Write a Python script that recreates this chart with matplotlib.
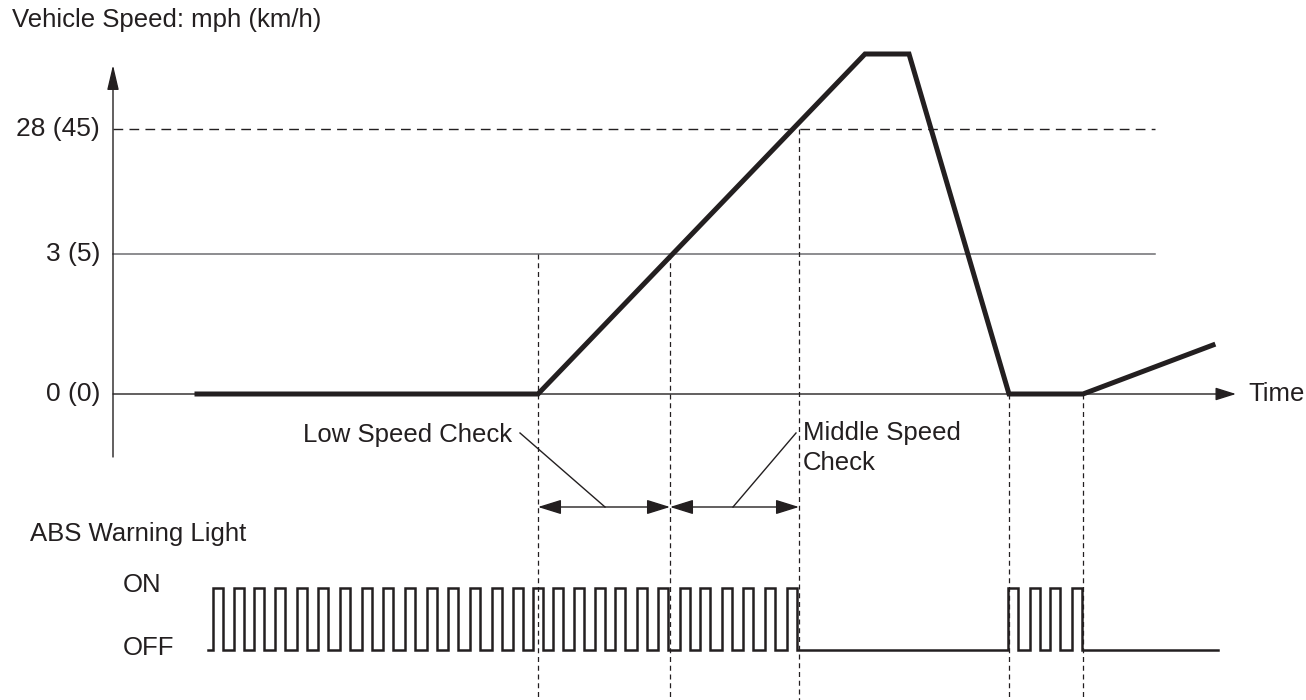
import matplotlib.pyplot as plt

plt.rcParams['font.family'] = ['Liberation Sans', 'DejaVu Sans']

# diagram units: x = time position, y = height above the 0 (0) line
ink = '#231f20'
grey = '#6d6e71'

# vehicle speed trace
speed_t = [197, 538, 865, 909, 1009, 1083, 1213]
speed_v = [0, 0, 340, 340, 0, 0, 49]

# reference speed levels and their labels
level_v = [0, 140, 265]
level_lbl = ['0 (0)', '3 (5)', '28 (45)']

# ABS warning light: rising edges of each blink, all blinks same on-time
blink_rise = [213, 234, 254, 275, 297, 318, 340, 362, 383, 405, 427, 448, 470, 492,
              513, 533, 553, 574, 595, 615, 637, 658, 680, 700, 722, 743, 765, 787,
              1008, 1030, 1050, 1072]
blink_on = 10
light_start, light_end = 208, 1218
light_on, light_off = -194, -256

# check points (time) and the level each dashed marker starts from
check_t = [538, 670, 799, 1009, 1083]
check_top = [140, 140, 265, 0, 0]

fig = plt.figure(figsize=(13.06, 7), dpi=100)
ax = fig.add_axes([0, 0, 1, 1])
ax.set_xlim(0, 1306)
ax.set_ylim(-306, 394)
ax.axis('off')

# reference lines
ax.plot([113, 1155], [level_v[1], level_v[1]], color=grey, lw=1.1)
ax.plot([113, 1155], [level_v[2], level_v[2]], color=ink, lw=1.0, ls=(0, (7, 4.5)))

# axes with arrows
ax.annotate('', xy=(1236, 0), xytext=(113, 0),
            arrowprops=dict(arrowstyle='-|>,head_length=0.7,head_width=0.22',
                            mutation_scale=18, color=ink, lw=1.0, shrinkA=0, shrinkB=0))
ax.annotate('', xy=(113, 329), xytext=(113, -63),
            arrowprops=dict(arrowstyle='-|>,head_length=0.85,head_width=0.2',
                            mutation_scale=18, color=ink, lw=1.0, shrinkA=0, shrinkB=0))

# dashed check markers
for t, top in zip(check_t, check_top):
    ax.plot([t, t], [top, -306], color=ink, lw=0.9, ls=(0, (4, 3)))

# speed trace
ax.plot(speed_t, speed_v, color=ink, lw=3.6, solid_joinstyle='miter', zorder=5)

# warning light trace
lx, ly = [light_start], [light_off]
for r in blink_rise:
    lx += [r, r, r + blink_on, r + blink_on]
    ly += [light_off, light_on, light_on, light_off]
lx.append(light_end)
ly.append(light_off)
ax.plot(lx, ly, color=ink, lw=1.8, solid_joinstyle='miter', zorder=5)

# check windows
for a, b in [(check_t[0], check_t[1]), (check_t[1], check_t[2])]:
    ax.annotate('', xy=(b, -113), xytext=(a, -113),
                arrowprops=dict(arrowstyle='<|-|>,head_length=0.8,head_width=0.25',
                                mutation_scale=18, color=ink, lw=1.0, shrinkA=0, shrinkB=0))
ax.plot([520, 605], [-39, -113], color=ink, lw=1.0)
ax.plot([796, 733], [-39, -113], color=ink, lw=1.0)

# texts
fs = 18.5
ax.text(12, 374, 'Vehicle Speed: mph (km/h)', fontsize=fs, color=ink, va='center')
for v, s in zip(level_v, level_lbl):
    ax.text(100, v, s, fontsize=19, color=ink, ha='right', va='center')
ax.text(1248, 0, 'Time', fontsize=fs, color=ink, va='center')
ax.text(512, -41, 'Low Speed Check', fontsize=fs, color=ink, ha='right', va='center')
ax.text(803, -39, 'Middle Speed', fontsize=fs, color=ink, va='center')
ax.text(803, -69, 'Check', fontsize=fs, color=ink, va='center')
ax.text(30, -140, 'ABS Warning Light', fontsize=fs, color=ink, va='center')
ax.text(123, light_on + 3, 'ON', fontsize=fs, color=ink, va='center')
ax.text(123, light_off + 2, 'OFF', fontsize=fs, color=ink, va='center')

fig.savefig('out.png', dpi=100)
